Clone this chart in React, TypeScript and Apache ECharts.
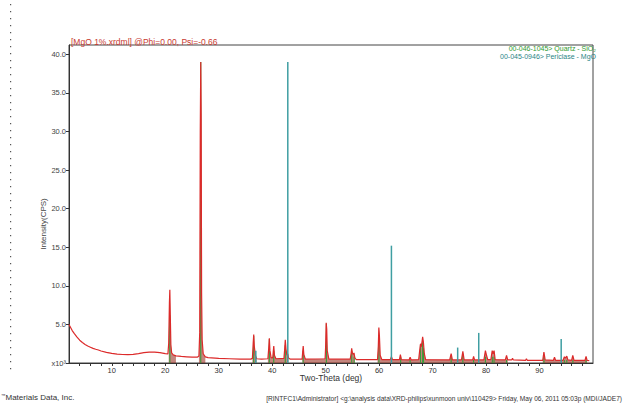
import React, { useEffect, useRef } from "react";
import * as echarts from "echarts";

// Measured XRD trace: [2-theta (deg), intensity (x10^3 CPS)]
const trace: [number, number][] = [
  [2.0, 5.0], [2.3, 4.6], [2.6, 4.2], [3.0, 3.8], [3.5, 3.35], [4.0, 2.95], [4.5, 2.65], [5.0, 2.4], [5.5, 2.2],
  [6.0, 2.05], [6.5, 1.9], [7.0, 1.78], [7.5, 1.68], [8.0, 1.55], [9.0, 1.38], [10.0, 1.25], [11.0, 1.15],
  [12.0, 1.1], [13.0, 1.08], [14.0, 1.12], [15.0, 1.22], [16.0, 1.35], [17.0, 1.42], [18.0, 1.42], [19.0, 1.35],
  [20.0, 1.22], [20.5, 1.18], [20.65, 2.6], [20.78, 7.8], [20.86, 9.5], [20.95, 6.0], [21.05, 2.4], [21.2, 1.3],
  [21.5, 1.05], [22.0, 0.92], [23.0, 0.85], [24.0, 0.8], [25.0, 0.75], [26.0, 0.75], [26.3, 0.9], [26.45, 4.0],
  [26.55, 30.0], [26.64, 39.0], [26.72, 32.0], [26.8, 9.0], [26.9, 3.0], [27.1, 1.2], [27.5, 0.8], [28.0, 0.7],
  [30.0, 0.6], [32.0, 0.55], [34.0, 0.5], [36.0, 0.5], [36.3, 0.6], [36.45, 2.6], [36.55, 3.7], [36.65, 2.2],
  [36.75, 1.6], [36.85, 1.0], [37.1, 0.55], [38.0, 0.5], [39.2, 0.55], [39.35, 1.9], [39.47, 3.2], [39.58, 1.6],
  [39.8, 0.7], [40.1, 0.65], [40.22, 1.6], [40.3, 2.2], [40.42, 1.0], [40.7, 0.55], [42.2, 0.6], [42.35, 1.9],
  [42.45, 3.0], [42.58, 1.8], [42.75, 1.0], [42.92, 1.2], [43.05, 0.65], [43.4, 0.5], [45.6, 0.5], [45.7, 1.4],
  [45.8, 2.2], [45.92, 1.1], [46.2, 0.5], [49.9, 0.55], [50.0, 2.2], [50.1, 5.2], [50.2, 4.4], [50.3, 1.6],
  [50.6, 0.5], [54.6, 0.5], [54.77, 1.3], [54.87, 1.9], [55.0, 1.3], [55.15, 1.1], [55.3, 1.3], [55.45, 0.7],
  [55.7, 0.45], [59.7, 0.45], [59.85, 2.2], [59.95, 4.6], [60.05, 3.6], [60.2, 1.0], [60.5, 0.45], [62.1, 0.45],
  [62.3, 0.8], [62.5, 0.45], [63.8, 0.45], [63.98, 1.1], [64.15, 0.45], [65.6, 0.4], [65.8, 0.75], [66.0, 0.4],
  [67.4, 0.45], [67.6, 1.7], [67.74, 2.5], [67.9, 2.1], [68.05, 2.9], [68.14, 3.4], [68.28, 2.7], [68.45, 1.2],
  [68.7, 0.45], [73.2, 0.4], [73.47, 1.2], [73.7, 0.4], [75.4, 0.4], [75.66, 1.5], [75.9, 0.4], [77.5, 0.4],
  [77.67, 0.85], [77.85, 0.4], [79.6, 0.4], [79.88, 1.6], [80.08, 1.0], [80.3, 0.45], [80.9, 0.45], [81.15, 1.6],
  [81.32, 1.2], [81.5, 1.6], [81.7, 0.45], [83.6, 0.4], [83.83, 1.0], [84.05, 0.4], [84.8, 0.4], [84.95, 0.6],
  [85.1, 0.4], [87.4, 0.35], [87.55, 0.55], [87.7, 0.35], [90.6, 0.35], [90.82, 1.4], [91.05, 0.4], [92.6, 0.35],
  [92.8, 0.75], [93.0, 0.35], [94.4, 0.35], [94.65, 0.8], [94.85, 0.65], [95.1, 0.9], [95.3, 0.4], [96.0, 0.35],
  [96.22, 1.0], [96.45, 0.35], [98.5, 0.35], [98.7, 0.85], [98.9, 0.35], [99.3, 0.3],
];

// Reference sticks: Quartz 00-046-1045
const quartzPos = [20.86, 26.64, 36.54, 39.47, 40.29, 42.45, 45.79, 50.14, 54.87, 55.33, 59.96, 64.03, 65.79,
  67.74, 68.14, 68.31, 73.47, 75.66, 77.67, 79.88, 81.17, 81.49, 83.84, 90.83, 94.64, 95.1, 96.24, 98.7];
const quartzInt = [6.2, 39.0, 3.5, 3.1, 1.6, 2.3, 1.6, 5.1, 1.6, 0.8, 3.5, 0.8, 0.4,
  2.3, 2.7, 1.9, 0.8, 1.2, 0.4, 0.8, 0.8, 0.8, 0.4, 0.8, 0.4, 0.4, 0.4, 0.4];

// Reference sticks: Periclase 00-045-0946
const periclasePos = [36.94, 42.92, 62.3, 74.69, 78.63, 94.05];
const periclaseInt = [1.6, 39.0, 15.2, 2.0, 3.9, 3.1];

const xLabelValues = [10, 20, 30, 40, 50, 60, 70, 80, 90];
const xTickValues = [4, 6, 8, 10, 12, 14, 16, 18, 20, 22, 24, 26, 28, 30, 32, 34, 36, 38, 40, 42, 44, 46, 48, 50,
  52, 54, 56, 58, 60, 62, 64, 66, 68, 70, 72, 74, 76, 78, 80, 82, 84, 86, 88, 90, 92, 94, 96, 98];
const yLabelValues = [0, 5, 10, 15, 20, 25, 30, 35, 40];

const FONT = "Liberation Sans, Arial, sans-serif";

export default function App() {
  const ref = useRef<HTMLDivElement>(null);

  useEffect(() => {
    if (!ref.current) return;
    const chart = echarts.init(ref.current, undefined, { renderer: "svg" });

    const thrOf = (x: number) => (x > 27.5 ? 0.7 : 0.95);
    const inPeak = (j: number) =>
      j >= 0 && j < trace.length && trace[j][0] > 20.55 && trace[j][1] > thrOf(trace[j][0]);
    const fillData = trace.map(([x, y], i) =>
      x > 20.5 && (inPeak(i) || inPeak(i - 1) || inPeak(i + 1)) ? [x, y] : [x, null]
    );

    const stickSeries = (name: string, pos: number[], vals: number[], color: string, w: number, z: number) => ({
      name,
      type: "custom",
      z,
      silent: true,
      data: pos.map((p, i) => [p, vals[i]]),
      renderItem: (_params: any, api: any) => {
        const p0 = api.coord([api.value(0), 0]);
        const p1 = api.coord([api.value(0), api.value(1)]);
        return {
          type: "line",
          shape: { x1: p0[0], y1: p0[1], x2: p1[0], y2: p1[1] },
          style: { stroke: color, lineWidth: w },
        };
      },
    });

    const dots: any[] = [];
    for (let y = 4; y < 372; y += 7) {
      dots.push({ type: "rect", shape: { x: 10, y, width: 1.2, height: 1.2 }, style: { fill: "#555" } });
    }

    chart.setOption({
      animation: false,
      textStyle: { fontFamily: FONT },
      grid: { left: 69, right: 32, top: 45, bottom: 40, show: true, borderColor: "#444", borderWidth: 1 },
      xAxis: {
        type: "value",
        min: 2,
        max: 100,
        axisLine: { show: true, lineStyle: { color: "#333", width: 1 } },
        axisTick: { show: true, length: 3, customValues: xTickValues, lineStyle: { color: "#333" } },
        axisLabel: { customValues: xLabelValues, fontSize: 7.5, color: "#333", margin: 3, fontFamily: FONT },
        splitLine: { show: false },
      },
      yAxis: {
        type: "value",
        min: 0,
        max: 41.2,
        axisLine: { show: true, lineStyle: { color: "#333", width: 1 } },
        axisTick: { show: true, length: 3, customValues: yLabelValues, lineStyle: { color: "#333" } },
        axisLabel: {
          customValues: yLabelValues,
          fontSize: 7.5,
          color: "#444",
          margin: 3,
          fontFamily: FONT,
          formatter: (v: number) => (v === 0 ? "x10³" : v.toFixed(1)),
        },
        splitLine: { show: false },
      },
      series: [
        {
          name: "peakFill",
          type: "line",
          data: fillData,
          symbol: "none",
          connectNulls: false,
          lineStyle: { width: 0, opacity: 0 },
          areaStyle: { color: "rgba(150,40,25,0.8)", origin: 0 },
          z: 1,
          silent: true,
        },
        stickSeries("Quartz", quartzPos, quartzInt, "#3a9a3a", 1.1, 2),
        {
          name: "MgO 1%",
          type: "line",
          data: trace,
          symbol: "none",
          lineStyle: { color: "#dc2a2a", width: 1.2 },
          z: 3,
          silent: true,
        },
        stickSeries("Periclase", periclasePos, periclaseInt, "#3f9ea2", 1.5, 4),
      ],
      graphic: [
        ...dots,
        {
          type: "text",
          left: 71,
          top: 37,
          style: { text: "[MgO 1%.xrdml] @Phi=0.00, Psi=-0.66", fill: "#c83a30", fontSize: 8.5, fontFamily: FONT },
        },
        {
          type: "text",
          x: 596,
          y: 48,
          style: { text: "00-046-1045> Quartz - SiO₂", fill: "#2f9a2f", fontSize: 7, fontFamily: FONT, align: "right", verticalAlign: "middle" },
        },
        {
          type: "text",
          x: 596,
          y: 56.5,
          style: { text: "00-045-0946> Periclase - MgO", fill: "#2a8585", fontSize: 7, fontFamily: FONT, align: "right", verticalAlign: "middle" },
        },
        {
          type: "text",
          x: 43,
          y: 224,
          rotation: Math.PI / 2,
          style: { text: "Intensity(CPS)", fill: "#444", fontSize: 8, fontFamily: FONT, align: "center", verticalAlign: "middle" },
        },
        {
          type: "text",
          x: 331,
          y: 378,
          style: { text: "Two-Theta (deg)", fill: "#333", fontSize: 8.5, fontFamily: FONT, align: "center", verticalAlign: "middle" },
        },
        {
          type: "text",
          x: 1,
          y: 397,
          style: {
            text: "{tm|™}{m|Materials Data, Inc.}",
            fill: "#333",
            fontFamily: FONT,
            verticalAlign: "middle",
            rich: {
              tm: { fontSize: 4.5, fill: "#333", fontFamily: FONT, verticalAlign: "top", padding: [0, 0, 4, 0] },
              m: { fontSize: 8, fill: "#333", fontFamily: FONT },
            },
          },
        },
        {
          type: "text",
          x: 622,
          y: 398,
          style: {
            text: "[RINTFC1\\Administrator] <g:\\analysis data\\XRD-philips\\xunmoon univ\\110429> Friday, May 06, 2011 05:03p (MDI/JADE7)",
            fill: "#333",
            fontSize: 6.6,
            fontFamily: FONT,
            align: "right",
            verticalAlign: "middle",
          },
        },
      ],
    });

    return () => chart.dispose();
  }, []);

  return <div ref={ref} style={{ position: "absolute", left: 0, top: 0, width: 625, height: 403 }} />;
}
